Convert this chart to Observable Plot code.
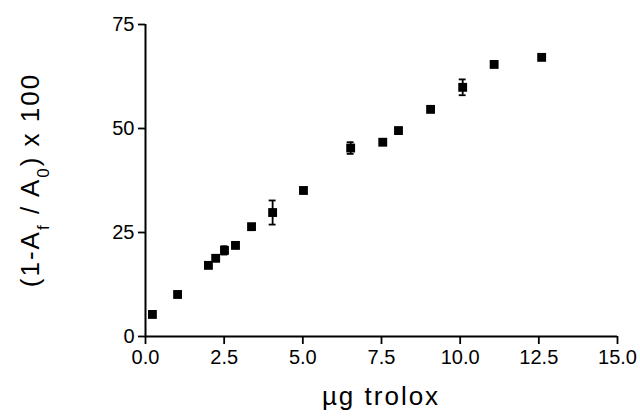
<!DOCTYPE html>
<html>
<head>
<meta charset="utf-8">
<script src="https://cdn.jsdelivr.net/npm/d3@7"></script>
<script src="https://cdn.jsdelivr.net/npm/@observablehq/plot@0.6"></script>
<style>
  html, body { margin: 0; padding: 0; background: #fff; }
  svg { font-family: "Liberation Sans", Arial, Helvetica, sans-serif; }
</style>
</head>
<body>
<div id="chart"></div>
<script>
// Data
const troloxUg = [0.22, 1.02, 2.0, 2.23, 2.51, 2.86, 3.37, 4.04, 5.02, 6.52, 7.54, 8.04, 9.06, 10.08, 11.08, 12.59];
const inhibition = [5.3, 10.1, 17.1, 18.8, 20.7, 21.9, 26.4, 29.8, 35.1, 45.3, 46.7, 49.5, 54.6, 59.9, 65.4, 67.1];
const errorSD = [0, 0, 0, 0, 1.0, 0.4, 0, 2.9, 0, 1.4, 0, 0, 0, 1.9, 0, 0];
const xTicks = [0, 2.5, 5, 7.5, 10, 12.5, 15];
const yTicks = [0, 25, 50, 75];

const data = troloxUg.map((x, i) => ({x, y: inhibition[i], e: errorSD[i]}));
const withErr = data.filter(d => d.e > 0);
const capHalf = 0.11;

const plot = Plot.plot({
  width: 640,
  height: 420,
  marginLeft: 145,
  marginRight: 23,
  marginTop: 24,
  marginBottom: 84,
  style: {fontFamily: '"Liberation Sans", Arial, Helvetica, sans-serif', fontSize: "20px", color: "#000", background: "#fff"},
  x: {domain: [0, 15], label: null},
  y: {domain: [0, 75], label: null},
  marks: [
    Plot.ruleX([0], {stroke: "#000", strokeWidth: 2}),
    Plot.ruleY([0], {stroke: "#000", strokeWidth: 2}),
    Plot.ruleX(withErr, {x: "x", y1: d => d.y - d.e, y2: d => d.y + d.e, stroke: "#000", strokeWidth: 1.8}),
    Plot.ruleY(withErr, {y: d => d.y + d.e, x1: d => d.x - capHalf, x2: d => d.x + capHalf, stroke: "#000", strokeWidth: 1.8}),
    Plot.ruleY(withErr, {y: d => d.y - d.e, x1: d => d.x - capHalf, x2: d => d.x + capHalf, stroke: "#000", strokeWidth: 1.8}),
    Plot.dot(data, {x: "x", y: "y", symbol: "square", r: 5, fill: "#000", stroke: "none"}),
    Plot.axisX({ticks: xTicks, tickFormat: d3.format(".1f"), tickSize: 8, tickPadding: 5, strokeWidth: 1.8, fontSize: 20, label: null}),
    Plot.axisY({ticks: yTicks, tickSize: 7, tickPadding: 4, strokeWidth: 1.8, fontSize: 20, label: null})
  ]
});

const svg = d3.select(plot);
// x axis label
svg.append("text")
  .attr("x", 381).attr("y", 405)
  .attr("text-anchor", "middle")
  .attr("font-size", 26)
  .attr("letter-spacing", "2px")
  .attr("fill", "#000")
  .text("µg trolox");
// y axis label with subscripts
const yl = svg.append("text")
  .attr("transform", "translate(39,180) rotate(-90)")
  .attr("text-anchor", "middle")
  .attr("font-size", 26)
  .attr("letter-spacing", "2px")
  .attr("fill", "#000");
yl.append("tspan").text("(1-A");
yl.append("tspan").attr("baseline-shift", "sub").attr("font-size", 17).text("f");
yl.append("tspan").text(" / A");
yl.append("tspan").attr("baseline-shift", "sub").attr("font-size", 17).text("0");
yl.append("tspan").text(") x 100");

document.getElementById("chart").appendChild(plot);
</script>
</body>
</html>
